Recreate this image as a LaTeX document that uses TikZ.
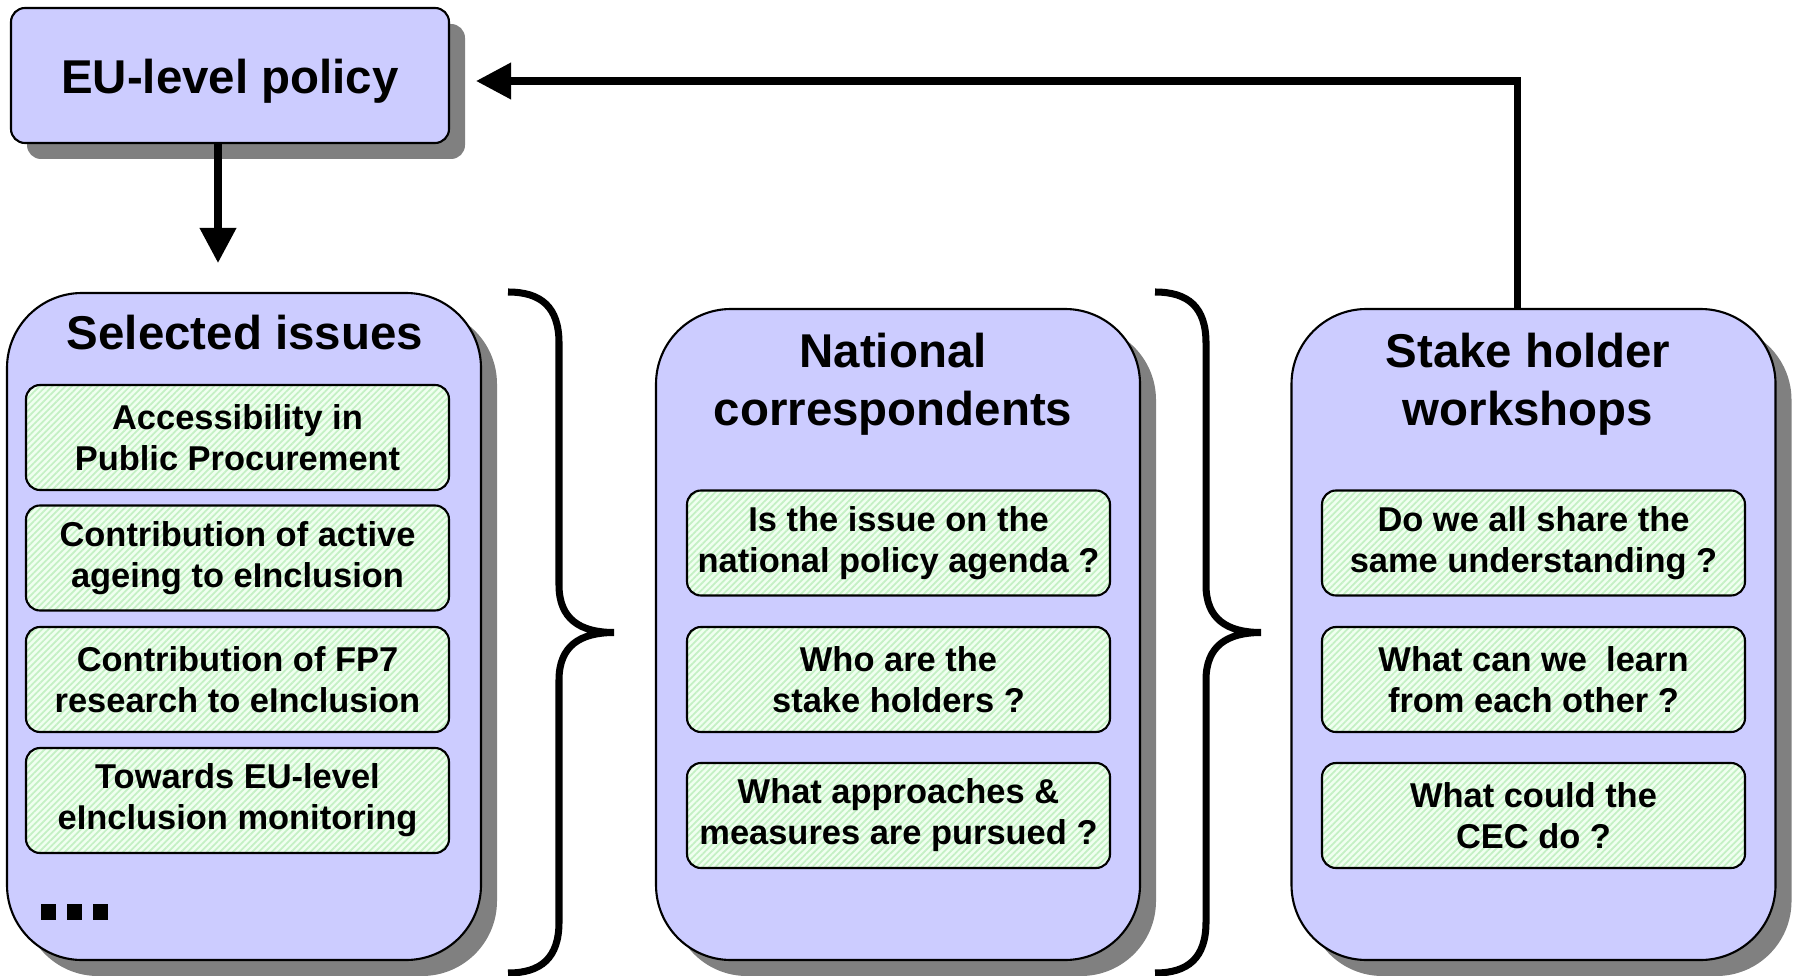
\documentclass[tikz,border=0pt]{standalone}
\usepackage{fontspec}
\setmainfont{Liberation Sans}
\usepackage{tikz}
\usetikzlibrary{positioning, arrows.meta, shadows, patterns.meta}
\usepackage{xcolor}
\definecolor{lavender}{HTML}{CCCCFF}
\definecolor{shadowgray}{HTML}{808080}
\definecolor{palegreen}{HTML}{F0FFF0}
\definecolor{stripegreen}{HTML}{C4F0C4}
\tikzset{
    boxshadow/.style={drop shadow={shadow xshift=0.16cm, shadow yshift=-0.16cm, fill=shadowgray, opacity=1}},
    policybox/.style={draw, line width=0.6pt, fill=lavender, rounded corners=0.14cm, boxshadow,
        minimum width=4.38cm, minimum height=1.35cm, text height=13.2pt, text depth=2.9pt,
        font=\fontsize{13.5}{16.6}\selectfont\bfseries},
    groupbox/.style={draw, line width=0.6pt, fill=lavender, rounded corners=0.75cm, boxshadow,
        minimum width=4.84cm, minimum height=6.51cm},
    issuebox/.style={draw, line width=0.6pt, rounded corners=0.14cm, preaction={fill=palegreen},
        pattern={Lines[angle=45, distance=1.3pt, line width=0.5pt]}, pattern color=stripegreen,
        minimum width=4.23cm, minimum height=1.05cm, align=center, inner sep=1pt,
        font=\fontsize{9.8}{11.7}\selectfont\bfseries},
    grouptitle/.style={align=center, font=\fontsize{13.5}{16.6}\selectfont\bfseries},
    flow/.style={line width=2pt, -{Triangle[width=10pt, length=10pt]}},
    curly/.style={line width=2pt}
}
\begin{document}
\begin{tikzpicture}

        \useasboundingbox (0,0) rectangle (17.96,9.75);

        % Top box
        \node[policybox] (policy) at (2.30,8.995) {EU-level policy};

        % Columns
        \node[groupbox, minimum width=4.74cm, minimum height=6.67cm] (issues) at (2.44,3.485) {};
        \node[groupbox] (national) at (8.98,3.405) {};
        \node[groupbox] (stake) at (15.335,3.405) {};

        % Titles
        \node[grouptitle] (issuestitle) at (2.45,6.42) {Selected issues};
        \node[grouptitle] (nationaltitle) at (8.93,5.91) {National\\correspondents};
        \node[grouptitle] (staketitle) at (15.28,5.91) {Stake holder\\workshops};

        % Selected issues
        \node[issuebox] (issue1) at (2.375,5.375) {Accessibility in\\Public Procurement};
        \node[issuebox] (issue2) at (2.375,4.17) {Contribution of active\\ageing to eInclusion};
        \node[issuebox] (issue3) at (2.375,2.955) {Contribution of FP7\\research to eInclusion};
        \node[issuebox] (issue4) at (2.375,1.745) {Towards EU-level\\eInclusion monitoring};
        \node[inner sep=0pt] (more) at (0.745,0.63)
            {\rule{4.5pt}{4.5pt}\hspace{2.9pt}\rule{4.5pt}{4.5pt}\hspace{2.9pt}\rule{4.5pt}{4.5pt}};

        % National correspondents
        \node[issuebox] (national1) at (8.985,4.32) {Is the issue on the\\national policy agenda ?};
        \node[issuebox] (national2) at (8.985,2.955) {Who are the\\stake holders ?};
        \node[issuebox] (national3) at (8.985,1.595) {What approaches \&\\measures are pursued ?};

        % Stake holder workshops
        \node[issuebox] (stake1) at (15.335,4.32) {Do we all share the\\same understanding ?};
        \node[issuebox] (stake2) at (15.335,2.955) {What can we\ \ learn\\from each other ?};
        \node[issuebox] (stake3) at (15.335,1.595) {What could the\\CEC do ?};

        % Braces
        \foreach \bx in {5.08,11.55} {
            \draw[curly] (\bx,6.83) .. controls ({\bx+0.33},6.83) and ({\bx+0.51},6.68) .. ({\bx+0.51},6.32)
                -- ({\bx+0.51},3.90) .. controls ({\bx+0.51},3.56) and ({\bx+0.72},3.425) .. ({\bx+1.06},3.425)
                .. controls ({\bx+0.72},3.425) and ({\bx+0.51},3.29) .. ({\bx+0.51},2.95)
                -- ({\bx+0.51},0.53) .. controls ({\bx+0.51},0.17) and ({\bx+0.33},0.02) .. (\bx,0.02);
        }

        % Arrows
        \coordinate (dropend) at (2.18,7.12);
        \coordinate (fbturn) at (15.17,8.94);
        \coordinate (fbend) at (4.76,8.94);
        \draw[flow] (policy.south -| dropend) -- (dropend);
        \draw[flow] (stake.north -| fbturn) |- (fbend);

    \end{tikzpicture}
\end{document}
